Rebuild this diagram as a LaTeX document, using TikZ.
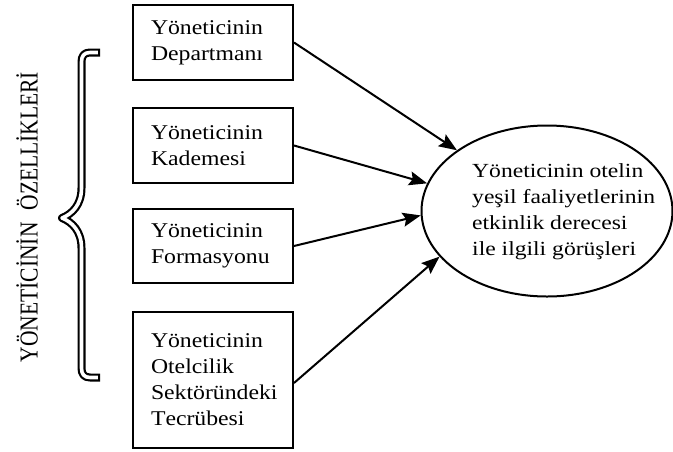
\documentclass[tikz,border=0pt]{standalone}
\usepackage{fontspec}
\setmainfont{Liberation Serif}[Kerning=Off]
\newfontfamily\boxfont{Liberation Serif}[FakeStretch=1.13,Kerning=Off]
\newfontfamily\ellfont{Liberation Serif}[FakeStretch=1.18,Kerning=Off]
\usetikzlibrary{shapes.geometric,arrows.meta}
\tikzset{
  factor/.style={draw, line width=2pt, rectangle, minimum width=160pt, text width=124pt,
    inner xsep=18pt, inner ysep=0pt, align=left,
    font=\boxfont\fontsize{21}{26}\selectfont},
  outcome/.style={draw, line width=2pt, ellipse, minimum width=251pt, minimum height=171pt, inner sep=0pt},
  outtext/.style={inner sep=0pt, align=left, font=\ellfont\fontsize{20}{26}\selectfont},
  link/.style={line width=2pt, -{Stealth[length=18pt,width=14pt,inset=3pt]}},
}
\begin{document}
\begin{tikzpicture}[x=1pt,y=-1pt]
\useasboundingbox (0,0) rectangle (673,451);

\node[factor, minimum height=75pt] (b1) at (213,42.5) {Yöneticinin\\Departmanı};
\node[factor, minimum height=75pt] (b2) at (213,145.5) {Yöneticinin\\Kademesi};
\node[factor, minimum height=74pt] (b3) at (213,246) {Yöneticinin\\Formasyonu};
\node[factor, minimum height=136pt] (b4) at (213,380) {Yöneticinin\\Otelcilik\\Sektöründeki\\Tecrübesi};

\node[outcome] (e) at (547,211) {};
\node[outtext, anchor=west] (et) at (472,212) {Yöneticinin otelin\\yeşil faaliyetlerinin\\etkinlik derecesi\\ile ilgili görüşleri};

\draw[link] (b1.east) -- (e.146);
\draw[link] (b2.east) -- (e.167);
\draw[link] (b3.east) -- (e.182);
\draw[link] ([yshift=-3pt]b4.east) -- (e.203);

% brace
\draw[line width=8pt, line join=round, line cap=rect]
  (96,52.5) -- (90,52.5) .. controls (84,52.5) and (81.5,56) .. (81.5,62) -- (81.5,188)
  .. controls (81.5,205) and (72,214) .. (62,218) .. controls (72,222) and (81.5,231) .. (81.5,248)
  -- (81.5,368) .. controls (81.5,374) and (84,377.5) .. (90,377.5) -- (96,377.5);
\draw[white, line width=3.6pt, line join=round, line cap=butt]
  (97.8,52.5) -- (90,52.5) .. controls (84,52.5) and (81.5,56) .. (81.5,62) -- (81.5,188)
  .. controls (81.5,205) and (72,214) .. (62,218) .. controls (72,222) and (81.5,231) .. (81.5,248)
  -- (81.5,368) .. controls (81.5,374) and (84,377.5) .. (90,377.5) -- (97.8,377.5);

\node[rotate=90, inner sep=0pt, font=\fontsize{21.5}{26}\selectfont] (title) at (27,217) {\scalebox{1}[1.2]{YÖNETİCİNİN\hspace{12pt}ÖZELLİKLERİ}};
\end{tikzpicture}
\end{document}
